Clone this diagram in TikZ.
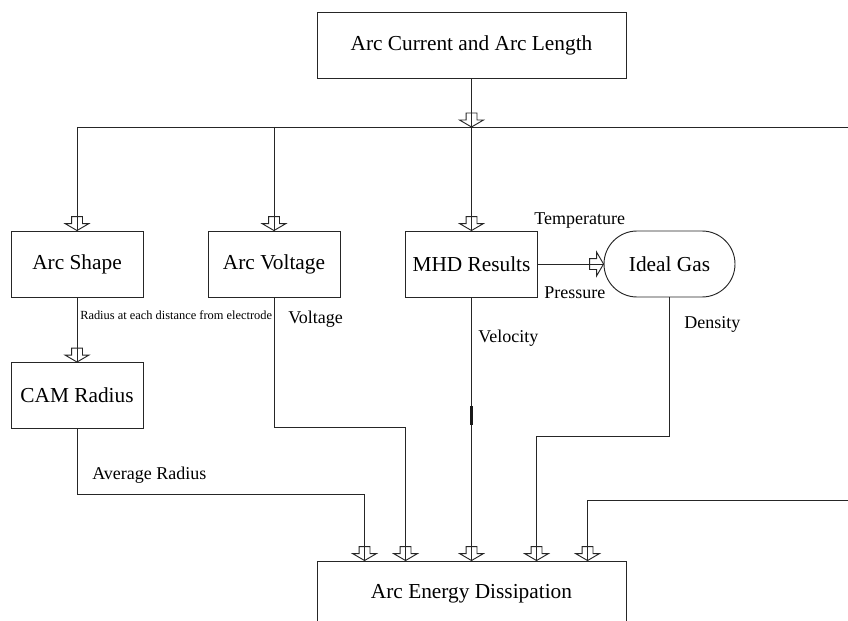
\documentclass[tikz,border=0pt]{standalone}
\usepackage{fontspec}
\setmainfont{Liberation Serif}
\usetikzlibrary{decorations.markings,shapes.misc}
\newcommand{\boxfont}{\fontsize{16}{19}\selectfont}
\newcommand{\labfont}{\fontsize{13.5}{16}\selectfont}
\newcommand{\smallfont}{\fontsize{9.3}{11}\selectfont}
\newcommand{\linew}{0.7pt}

\tikzset{
  BlockStyle/.style={draw=black!85, line width=\linew, minimum width=99pt, minimum height=49.5pt, inner sep=0pt, font=\boxfont},
  GasStyle/.style={BlockStyle, rounded rectangle, minimum width=98.25pt},
  LineStyle/.style={draw=black!85, line width=\linew},
  FlowStyle/.style={LineStyle, postaction={decorate, decoration={markings, mark=at position 1 with {\draw[LineStyle] (0pt,0pt) -- (-5.25pt,9pt) -- (-5.25pt,4.1pt) -- (-10.5pt,4.1pt) -- (-10.5pt,-4.1pt) -- (-5.25pt,-4.1pt) -- (-5.25pt,-9pt) -- cycle;}}}},
  LabelStyle/.style={font=\labfont, inner sep=0pt, anchor=west}
}

\begin{document}
\begin{tikzpicture}[x=0.75pt,y=-0.75pt]
        \clip (0,0) rectangle (848,620);
        \begin{scope}
            %\draw[help lines] (0,0) grid (848,620);
            \node[BlockStyle, minimum width=231.75pt] (current) at (471.5,45) {Arc Current and Arc Length};
            \node[BlockStyle] (shape) at (77,264) {Arc Shape};
            \node[BlockStyle] (voltage) at (274,264) {Arc Voltage};
            \node[BlockStyle] (mhd) at (471.5,264) {MHD Results};
            \node[GasStyle] (gas) at (669.5,264) {Ideal Gas};
            \node[BlockStyle] (cam) at (77,395.5) {CAM Radius};
            \node[BlockStyle, minimum width=231.75pt] (dissipation) at (471.5,594) {Arc Energy Dissipation};

            \coordinate (busL) at (77,127);
            \coordinate (busR) at (848,127);
            \coordinate (split) at (current.south |- busL);
            \coordinate (feedR) at (848,500);

            \draw[LineStyle] (busL) -- (busR);
            \draw[FlowStyle] (current.south) -- (split);
            \draw[FlowStyle] (split) -- (mhd);
            \draw[FlowStyle] (busL) -- (shape);
            \draw[FlowStyle] (busL -| voltage) -- (voltage);
            \draw[FlowStyle] (shape) -- (cam);
            \draw[FlowStyle] (mhd) -- (gas);

            \draw[FlowStyle] (cam.south) -- ++(0,65) -| ([xshift=36pt]dissipation.north west);
            \draw[FlowStyle] (voltage.south) -- ++(0,130) -| ([xshift=66.75pt]dissipation.north west);
            \draw[FlowStyle] (mhd) -- (dissipation);
            \draw[FlowStyle] (gas.south) -- ++(0,139) -| ([xshift=165pt]dissipation.north west);
            \draw[FlowStyle] (feedR) -| ([xshift=203.25pt]dissipation.north west);
            % darker piece on the velocity line
            \draw[line width=1.6pt, black!90] (471.5,406) -- (471.5,425);

            \node[LabelStyle, font=\smallfont] (radiuslab) at (80,315) {Radius at each distance from electrode};
            \node[LabelStyle] (voltlab) at (288,319) {Voltage};
            \node[LabelStyle] (templab) at (534,221) {Temperature};
            \node[LabelStyle] (preslab) at (544,293) {Pressure};
            \node[LabelStyle] (vellab) at (478,338) {Velocity};
            \node[LabelStyle] (denslab) at (684,324) {Density};
            \node[LabelStyle] (avglab) at (92,475) {Average Radius};
        \end{scope}
    \end{tikzpicture}
\end{document}
